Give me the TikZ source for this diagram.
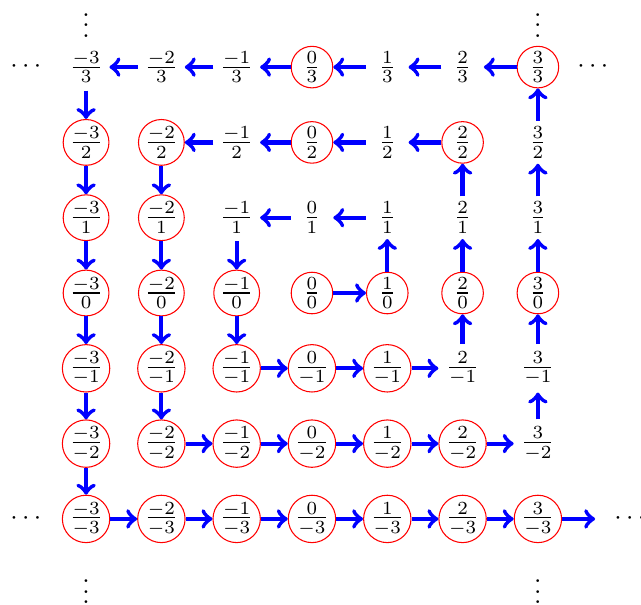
\documentclass[tikz,border=0pt]{standalone}
\usetikzlibrary{arrows}
\begin{document}
\begin{tikzpicture}[
  frac/.style={circle, inner sep=0pt, minimum size=15.7pt},
  ring/.style={frac, draw=red, line width=0.4pt},
  arr/.style={->, draw=blue, ultra thick},
]
\useasboundingbox (-4.143,-4.130) rectangle (4.369,3.891);

% fractions p/q that are drawn in a red ring
\foreach \p/\q in {0/3,3/3,
                   -3/2,-2/2,0/2,2/2,
                   -3/1,-2/1,
                   -3/0,-2/0,-1/0,0/0,1/0,2/0,3/0,
                   -3/-1,-2/-1,-1/-1,0/-1,1/-1,
                   -3/-2,-2/-2,-1/-2,0/-2,1/-2,2/-2,
                   -3/-3,-2/-3,-1/-3,0/-3,1/-3,2/-3,3/-3}
  \node[ring] (n\p_\q) at (\p,\q) {$\frac{\p}{\q}$};

% fractions p/q without a ring
\foreach \p/\q in {-3/3,-2/3,-1/3,1/3,2/3,
                   -1/2,1/2,3/2,
                   -1/1,0/1,1/1,2/1,3/1,
                   2/-1,3/-1,
                   3/-2}
  \node[frac] (n\p_\q) at (\p,\q) {$\frac{\p}{\q}$};

% continuation dots
\node (dotsl1) at (-3.80,3) {$\cdots$};
\node (dotsl2) at (-3.80,-3) {$\cdots$};
\node (dotsr1) at (3.73,3) {$\cdots$};
\node (dotsr2) at (4.22,-3) {$\cdots$};
\node (dotsu1) at (-3,3.66) {$\vdots$};
\node (dotsu2) at (3,3.66) {$\vdots$};
\node (dotsd1) at (-3,-3.86) {$\vdots$};
\node (dotsd2) at (3,-3.86) {$\vdots$};
\coordinate (tail) at (3.76,-3);

% the spiral walk
\foreach \a/\b in {0_0/1_0, 1_0/1_1, 1_1/0_1, 0_1/-1_1, -1_1/-1_0, -1_0/-1_-1,
                   -1_-1/0_-1, 0_-1/1_-1, 1_-1/2_-1, 2_-1/2_0, 2_0/2_1, 2_1/2_2,
                   2_2/1_2, 1_2/0_2, 0_2/-1_2, -1_2/-2_2, -2_2/-2_1, -2_1/-2_0,
                   -2_0/-2_-1, -2_-1/-2_-2, -2_-2/-1_-2, -1_-2/0_-2, 0_-2/1_-2,
                   1_-2/2_-2, 2_-2/3_-2, 3_-2/3_-1, 3_-1/3_0, 3_0/3_1, 3_1/3_2,
                   3_2/3_3, 3_3/2_3, 2_3/1_3, 1_3/0_3, 0_3/-1_3, -1_3/-2_3,
                   -2_3/-3_3, -3_3/-3_2, -3_2/-3_1, -3_1/-3_0, -3_0/-3_-1,
                   -3_-1/-3_-2, -3_-2/-3_-3, -3_-3/-2_-3, -2_-3/-1_-3,
                   -1_-3/0_-3, 0_-3/1_-3, 1_-3/2_-3, 2_-3/3_-3}
  \draw[arr] (n\a) -- (n\b);
\draw[arr] (n3_-3) -- (tail);
\end{tikzpicture}
\end{document}
